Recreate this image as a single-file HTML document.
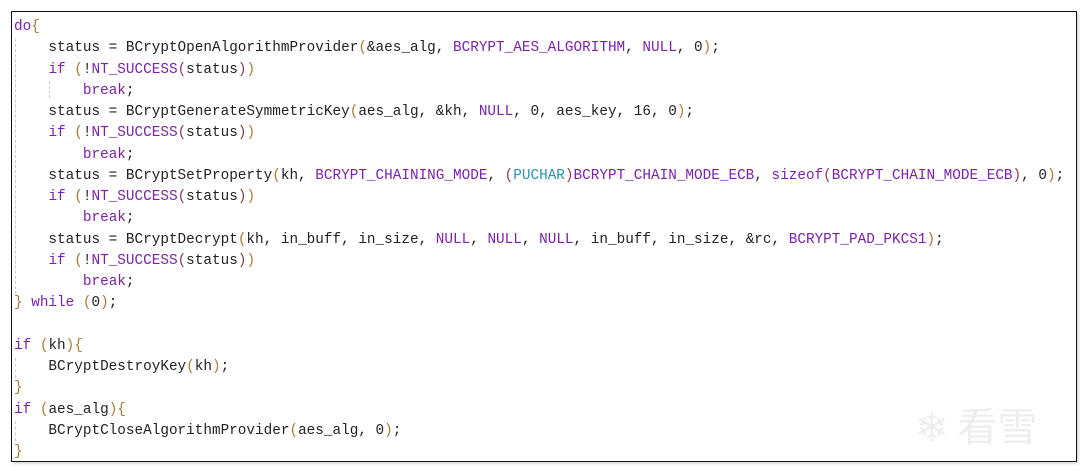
<!DOCTYPE html>
<html><head><meta charset="utf-8"><style>
html,body{margin:0;padding:0;background:#fff;width:1088px;height:471px;overflow:hidden}
.box{position:absolute;left:11px;top:11px;width:1064px;height:449px;border:1px solid #111;box-shadow:2px 2px 2px #ddd}
pre{position:absolute;left:2px;top:5px;margin:0;font-family:"Liberation Mono",monospace;font-size:14.35px;line-height:21.25px;color:#222}
.k{color:#7b22a8}.t{color:#2b91af}.p{color:#a67c3c}.q{color:#8b3a5a}
.g{position:absolute;border-left:1px dashed #ccc;width:0}
.wm{position:absolute;left:915px;top:395px;font-family:"Noto Sans CJK SC",sans-serif;font-size:40px;color:#eee}
</style></head><body>
<div class="box">
<div class="g" style="left:3px;top:27px;height:255px"></div>
<div class="g" style="left:37px;top:69px;height:17px"></div>
<div class="g" style="left:3px;top:346px;height:20px"></div>
<div class="g" style="left:3px;top:409px;height:20px"></div>
<pre><span class="k">do</span><span class="p">{</span>
    status = BCryptOpenAlgorithmProvider<span class="p">(</span>&amp;aes_alg, <span class="k">BCRYPT_AES_ALGORITHM</span>, <span class="k">NULL</span>, 0<span class="p">)</span>;
    <span class="k">if</span> <span class="p">(</span>!<span class="k">NT_SUCCESS</span><span class="q">(</span>status<span class="q">)</span><span class="p">)</span>
        <span class="k">break</span>;
    status = BCryptGenerateSymmetricKey<span class="p">(</span>aes_alg, &amp;kh, <span class="k">NULL</span>, 0, aes_key, 16, 0<span class="p">)</span>;
    <span class="k">if</span> <span class="p">(</span>!<span class="k">NT_SUCCESS</span><span class="q">(</span>status<span class="q">)</span><span class="p">)</span>
        <span class="k">break</span>;
    status = BCryptSetProperty<span class="p">(</span>kh, <span class="k">BCRYPT_CHAINING_MODE</span>, <span class="q">(</span><span class="t">PUCHAR</span><span class="q">)</span><span class="k">BCRYPT_CHAIN_MODE_ECB</span>, <span class="k">sizeof</span><span class="q">(</span><span class="k">BCRYPT_CHAIN_MODE_ECB</span><span class="q">)</span>, 0<span class="p">)</span>;
    <span class="k">if</span> <span class="p">(</span>!<span class="k">NT_SUCCESS</span><span class="q">(</span>status<span class="q">)</span><span class="p">)</span>
        <span class="k">break</span>;
    status = BCryptDecrypt<span class="p">(</span>kh, in_buff, in_size, <span class="k">NULL</span>, <span class="k">NULL</span>, <span class="k">NULL</span>, in_buff, in_size, &amp;rc, <span class="k">BCRYPT_PAD_PKCS1</span><span class="p">)</span>;
    <span class="k">if</span> <span class="p">(</span>!<span class="k">NT_SUCCESS</span><span class="q">(</span>status<span class="q">)</span><span class="p">)</span>
        <span class="k">break</span>;
<span class="p">}</span> <span class="k">while</span> <span class="p">(</span>0<span class="p">)</span>;

<span class="k">if</span> <span class="p">(</span>kh<span class="p">){</span>
    BCryptDestroyKey<span class="p">(</span>kh<span class="p">)</span>;
<span class="p">}</span>
<span class="k">if</span> <span class="p">(</span>aes_alg<span class="p">){</span>
    BCryptCloseAlgorithmProvider<span class="p">(</span>aes_alg, 0<span class="p">)</span>;
<span class="p">}</span></pre>
</div>
<div class="wm">❄ 看雪</div>
</body></html>
